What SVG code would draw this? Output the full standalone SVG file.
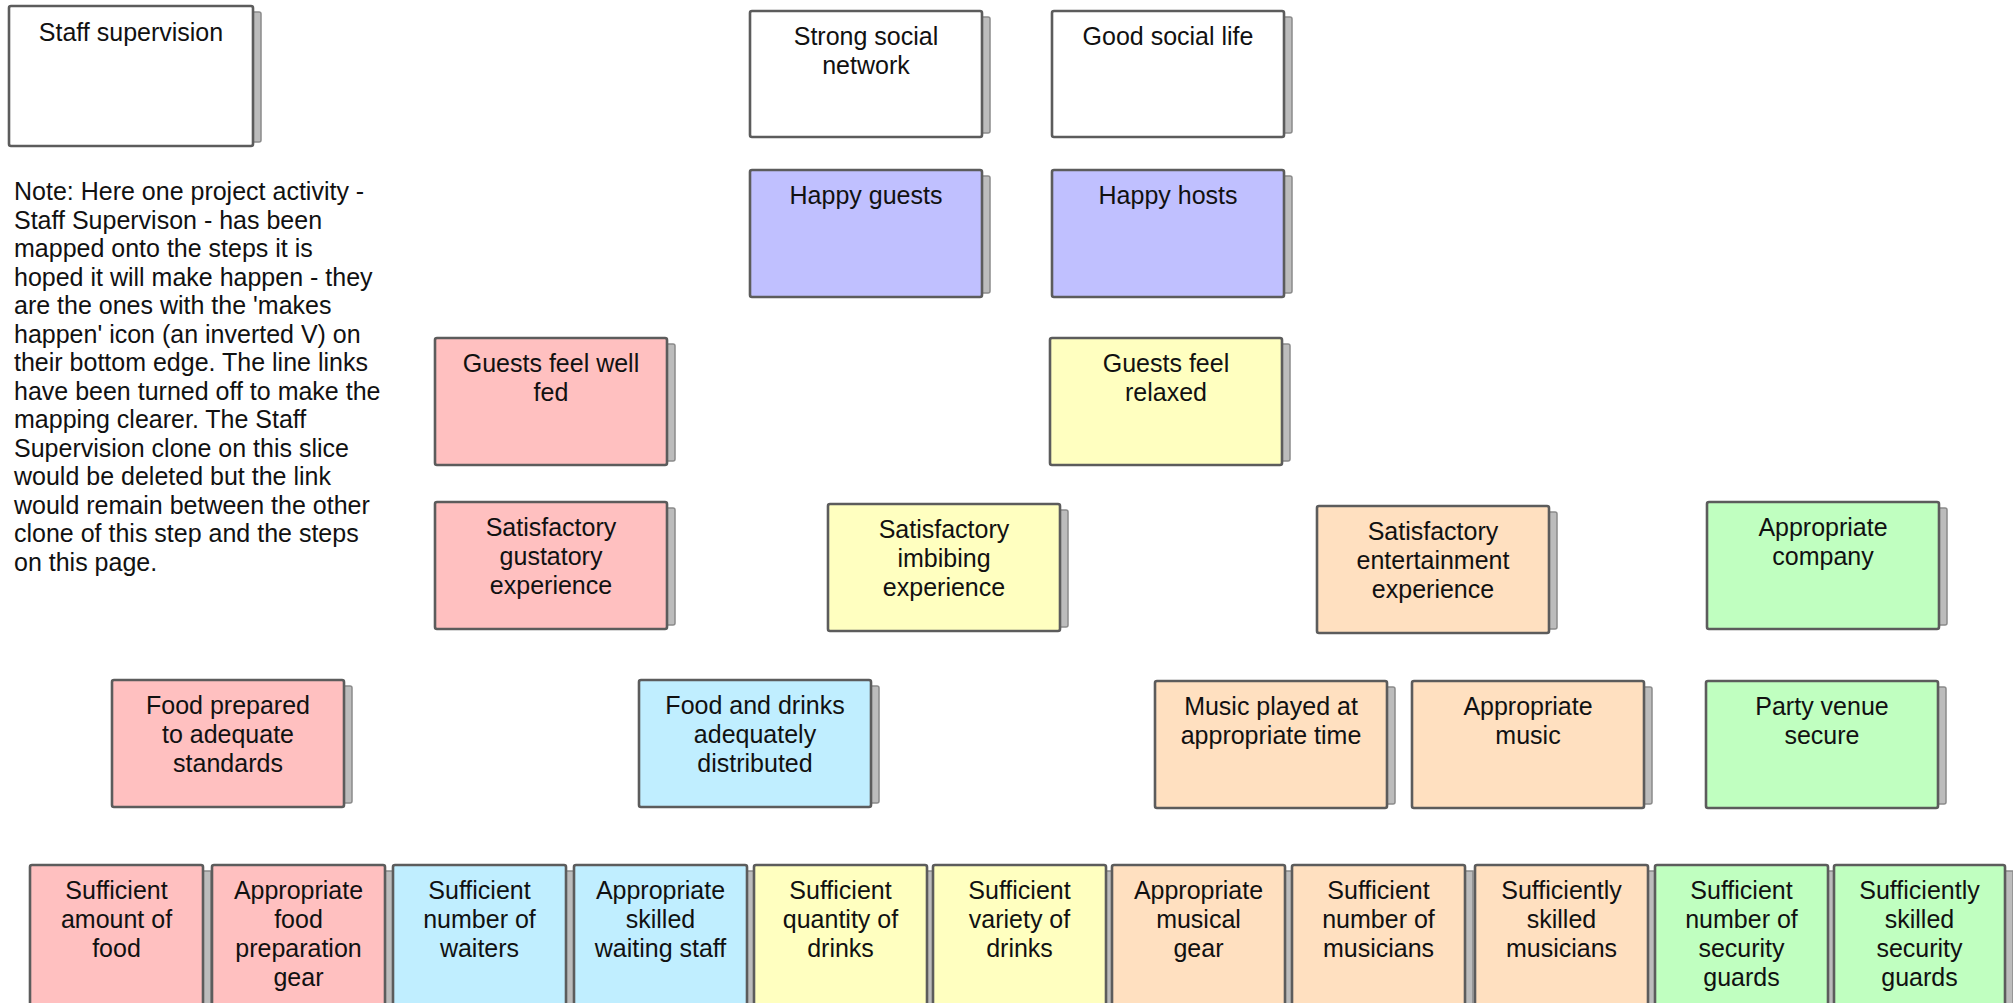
<svg xmlns="http://www.w3.org/2000/svg" width="2013" height="1003" viewBox="0 0 2013 1003">
  <style>
    .shadow { fill: #bcbcbc; stroke: #8a8a8a; stroke-width: 1.5; }
    .box { stroke: #5c5c5c; stroke-width: 2.6; }
    .white { fill: #ffffff; }
    .lav { fill: #c0c0ff; }
    .pink { fill: #ffc0c0; }
    .yellow { fill: #ffffc0; }
    .blue { fill: #c0eeff; }
    .peach { fill: #ffe0c0; }
    .green { fill: #c0ffc0; }
    text { font-family: "Liberation Sans", Arial, sans-serif; font-size: 25px; fill: #111111; }
    .label { text-anchor: middle; }
  </style>
  <defs>
    <!-- standard step card: 232 x 127 -->
    <g id="card">
      <rect class="shadow" x="8" y="6" width="232" height="117" rx="2"/>
      <rect x="0" y="0" width="232" height="127" rx="2"/>
    </g>
  </defs>
  <rect width="2013" height="1003" fill="#ffffff"/>

  <!-- no link lines are drawn on this slice -->
  <g id="connectors"/>

  <g id="staff-supervision">
    <rect class="shadow" x="17" y="12" width="244" height="130" rx="2"/>
    <rect class="box white" x="9" y="6" width="244" height="140" rx="2"/>
    <text class="label" x="131" y="41">Staff supervision</text>
  </g>

  <g id="note">
    <text x="14" y="200">Note: Here one project activity -</text>
    <text x="14" y="228.5">Staff Supervison - has been</text>
    <text x="14" y="257">mapped onto the steps it is</text>
    <text x="14" y="285.5">hoped it will make happen - they</text>
    <text x="14" y="314">are the ones with the 'makes</text>
    <text x="14" y="342.5">happen' icon (an inverted V) on</text>
    <text x="14" y="371">their bottom edge. The line links</text>
    <text x="14" y="399.5">have been turned off to make the</text>
    <text x="14" y="428">mapping clearer. The Staff</text>
    <text x="14" y="456.5">Supervision clone on this slice</text>
    <text x="14" y="485">would be deleted but the link</text>
    <text x="14" y="513.5">would remain between the other</text>
    <text x="14" y="542">clone of this step and the steps</text>
    <text x="14" y="570.5">on this page.</text>
  </g>

  <g id="strong-social-network">
    <rect class="shadow" x="758" y="17" width="232" height="116" rx="2"/>
    <rect class="box white" x="750" y="11" width="232" height="126" rx="2"/>
    <text class="label" x="866" y="45">Strong social</text>
    <text class="label" x="866" y="74">network</text>
  </g>

  <g id="good-social-life">
    <rect class="shadow" x="1060" y="17" width="232" height="116" rx="2"/>
    <rect class="box white" x="1052" y="11" width="232" height="126" rx="2"/>
    <text class="label" x="1168" y="45">Good social life</text>
  </g>

  <g id="happy-guests">
    <use href="#card" x="750" y="170" class="box lav"/>
    <text class="label" x="866" y="204">Happy guests</text>
  </g>

  <g id="happy-hosts">
    <use href="#card" x="1052" y="170" class="box lav"/>
    <text class="label" x="1168" y="204">Happy hosts</text>
  </g>

  <g id="guests-feel-well-fed">
    <use href="#card" x="435" y="338" class="box pink"/>
    <text class="label" x="551" y="372">Guests feel well</text>
    <text class="label" x="551" y="401">fed</text>
  </g>

  <g id="guests-feel-relaxed">
    <use href="#card" x="1050" y="338" class="box yellow"/>
    <text class="label" x="1166" y="372">Guests feel</text>
    <text class="label" x="1166" y="401">relaxed</text>
  </g>

  <g id="satisfactory-gustatory">
    <use href="#card" x="435" y="502" class="box pink"/>
    <text class="label" x="551" y="536">Satisfactory</text>
    <text class="label" x="551" y="565">gustatory</text>
    <text class="label" x="551" y="594">experience</text>
  </g>

  <g id="satisfactory-imbibing">
    <use href="#card" x="828" y="504" class="box yellow"/>
    <text class="label" x="944" y="538">Satisfactory</text>
    <text class="label" x="944" y="567">imbibing</text>
    <text class="label" x="944" y="596">experience</text>
  </g>

  <g id="satisfactory-entertainment">
    <use href="#card" x="1317" y="506" class="box peach"/>
    <text class="label" x="1433" y="540">Satisfactory</text>
    <text class="label" x="1433" y="569">entertainment</text>
    <text class="label" x="1433" y="598">experience</text>
  </g>

  <g id="appropriate-company">
    <use href="#card" x="1707" y="502" class="box green"/>
    <text class="label" x="1823" y="536">Appropriate</text>
    <text class="label" x="1823" y="565">company</text>
  </g>

  <g id="food-prepared">
    <use href="#card" x="112" y="680" class="box pink"/>
    <text class="label" x="228" y="714">Food prepared</text>
    <text class="label" x="228" y="743">to adequate</text>
    <text class="label" x="228" y="772">standards</text>
  </g>

  <g id="food-drinks-distributed">
    <use href="#card" x="639" y="680" class="box blue"/>
    <text class="label" x="755" y="714">Food and drinks</text>
    <text class="label" x="755" y="743">adequately</text>
    <text class="label" x="755" y="772">distributed</text>
  </g>

  <g id="music-played">
    <use href="#card" x="1155" y="681" class="box peach"/>
    <text class="label" x="1271" y="715">Music played at</text>
    <text class="label" x="1271" y="744">appropriate time</text>
  </g>

  <g id="appropriate-music">
    <use href="#card" x="1412" y="681" class="box peach"/>
    <text class="label" x="1528" y="715">Appropriate</text>
    <text class="label" x="1528" y="744">music</text>
  </g>

  <g id="party-venue-secure">
    <use href="#card" x="1706" y="681" class="box green"/>
    <text class="label" x="1822" y="715">Party venue</text>
    <text class="label" x="1822" y="744">secure</text>
  </g>

  <!-- bottom row: narrow cards running past the lower edge -->
  <g id="sufficient-food">
    <rect class="shadow" x="38" y="871" width="173" height="160"/>
    <rect class="box pink" x="30" y="865" width="173" height="170" rx="2"/>
    <text class="label" x="116.5" y="899">Sufficient</text>
    <text class="label" x="116.5" y="928">amount of</text>
    <text class="label" x="116.5" y="957">food</text>
  </g>

  <g id="food-prep-gear">
    <rect class="shadow" x="220" y="871" width="173" height="160"/>
    <rect class="box pink" x="212" y="865" width="173" height="170" rx="2"/>
    <text class="label" x="298.5" y="899">Appropriate</text>
    <text class="label" x="298.5" y="928">food</text>
    <text class="label" x="298.5" y="957">preparation</text>
    <text class="label" x="298.5" y="986">gear</text>
  </g>

  <g id="sufficient-waiters">
    <rect class="shadow" x="401" y="871" width="173" height="160"/>
    <rect class="box blue" x="393" y="865" width="173" height="170" rx="2"/>
    <text class="label" x="479.5" y="899">Sufficient</text>
    <text class="label" x="479.5" y="928">number of</text>
    <text class="label" x="479.5" y="957">waiters</text>
  </g>

  <g id="skilled-waiting-staff">
    <rect class="shadow" x="582" y="871" width="173" height="160"/>
    <rect class="box blue" x="574" y="865" width="173" height="170" rx="2"/>
    <text class="label" x="660.5" y="899">Appropriate</text>
    <text class="label" x="660.5" y="928">skilled</text>
    <text class="label" x="660.5" y="957">waiting staff</text>
  </g>

  <g id="quantity-drinks">
    <rect class="shadow" x="762" y="871" width="173" height="160"/>
    <rect class="box yellow" x="754" y="865" width="173" height="170" rx="2"/>
    <text class="label" x="840.5" y="899">Sufficient</text>
    <text class="label" x="840.5" y="928">quantity of</text>
    <text class="label" x="840.5" y="957">drinks</text>
  </g>

  <g id="variety-drinks">
    <rect class="shadow" x="941" y="871" width="173" height="160"/>
    <rect class="box yellow" x="933" y="865" width="173" height="170" rx="2"/>
    <text class="label" x="1019.5" y="899">Sufficient</text>
    <text class="label" x="1019.5" y="928">variety of</text>
    <text class="label" x="1019.5" y="957">drinks</text>
  </g>

  <g id="musical-gear">
    <rect class="shadow" x="1120" y="871" width="173" height="160"/>
    <rect class="box peach" x="1112" y="865" width="173" height="170" rx="2"/>
    <text class="label" x="1198.5" y="899">Appropriate</text>
    <text class="label" x="1198.5" y="928">musical</text>
    <text class="label" x="1198.5" y="957">gear</text>
  </g>

  <g id="number-musicians">
    <rect class="shadow" x="1300" y="871" width="173" height="160"/>
    <rect class="box peach" x="1292" y="865" width="173" height="170" rx="2"/>
    <text class="label" x="1378.5" y="899">Sufficient</text>
    <text class="label" x="1378.5" y="928">number of</text>
    <text class="label" x="1378.5" y="957">musicians</text>
  </g>

  <g id="skilled-musicians">
    <rect class="shadow" x="1483" y="871" width="173" height="160"/>
    <rect class="box peach" x="1475" y="865" width="173" height="170" rx="2"/>
    <text class="label" x="1561.5" y="899">Sufficiently</text>
    <text class="label" x="1561.5" y="928">skilled</text>
    <text class="label" x="1561.5" y="957">musicians</text>
  </g>

  <g id="number-guards">
    <rect class="shadow" x="1663" y="871" width="173" height="160"/>
    <rect class="box green" x="1655" y="865" width="173" height="170" rx="2"/>
    <text class="label" x="1741.5" y="899">Sufficient</text>
    <text class="label" x="1741.5" y="928">number of</text>
    <text class="label" x="1741.5" y="957">security</text>
    <text class="label" x="1741.5" y="986">guards</text>
  </g>

  <g id="skilled-guards">
    <rect class="shadow" x="1842" y="871" width="171" height="160"/>
    <rect class="box green" x="1834" y="865" width="171" height="170" rx="2"/>
    <text class="label" x="1919.5" y="899">Sufficiently</text>
    <text class="label" x="1919.5" y="928">skilled</text>
    <text class="label" x="1919.5" y="957">security</text>
    <text class="label" x="1919.5" y="986">guards</text>
  </g>
</svg>
